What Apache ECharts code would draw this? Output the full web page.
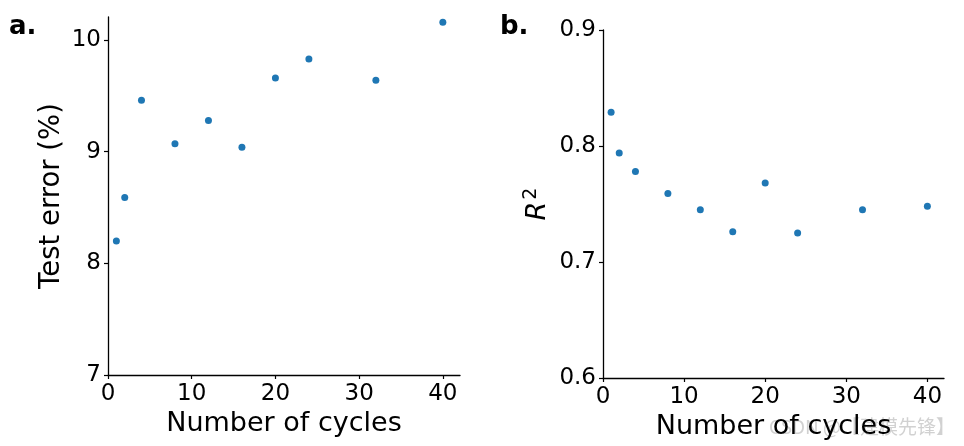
<!DOCTYPE html>
<html><head><meta charset="utf-8">
<script src="https://cdn.jsdelivr.net/npm/echarts@6/dist/echarts.min.js"></script>
<style>html,body{margin:0;padding:0;background:#fff}#c{width:964px;height:446px}</style>
</head><body><div id="c"></div>
<script>
const cycles = [1, 2, 4, 8, 12, 16, 20, 24, 32, 40];
const testError = [8.20, 8.59, 9.46, 9.07, 9.28, 9.04, 9.66, 9.83, 9.64, 10.16];
const r2 = [0.829, 0.794, 0.778, 0.759, 0.745, 0.726, 0.768, 0.725, 0.745, 0.748];
const xTicks = [0, 10, 20, 30, 40];
const yTicksA = [7, 8, 9, 10];
const yTicksB = [0.6, 0.7, 0.8, 0.9];

const FONT = 'DejaVu Sans';
const axisLine = {show: true, lineStyle: {color: '#000', width: 1.3}};
const tick = vals => ({show: true, inside: false, length: 4, lineStyle: {color: '#000', width: 1.2}, customValues: vals});
const label = (vals, margin, fmt) => ({show: true, fontFamily: FONT, fontSize: 23, color: '#000', margin: margin, customValues: vals, formatter: fmt});

const chart = echarts.init(document.getElementById('c'), null, {renderer: 'canvas'});
chart.setOption({
  animation: false,
  backgroundColor: '#fff',
  grid: [
    {left: 108, right: 504, top: 17, bottom: 71},
    {left: 603, right: 20, top: 30, bottom: 68}
  ],
  xAxis: [
    {gridIndex: 0, type: 'value', min: 0, max: 42.05, axisLine, axisTick: tick(xTicks), axisLabel: label(xTicks, 8),
     splitLine: {show: false}, name: 'Number of cycles', nameLocation: 'middle', nameGap: 31,
     nameTextStyle: {fontFamily: FONT, fontSize: 27, color: '#000'}},
    {gridIndex: 1, type: 'value', min: 0, max: 42.05, axisLine, axisTick: tick(xTicks), axisLabel: label(xTicks, 8),
     splitLine: {show: false}, name: 'Number of cycles', nameLocation: 'middle', nameGap: 33,
     nameTextStyle: {fontFamily: FONT, fontSize: 27, color: '#000'}}
  ],
  yAxis: [
    {gridIndex: 0, type: 'value', min: 7, max: 10.206, axisLine, axisTick: tick(yTicksA), axisLabel: label(yTicksA, 7),
     splitLine: {show: false}, name: 'Test error (%)', nameLocation: 'middle', nameGap: 42, nameRotate: 90,
     nameTextStyle: {fontFamily: FONT, fontSize: 27.5, color: '#000'}},
    {gridIndex: 1, type: 'value', min: 0.6, max: 0.9, axisLine, axisTick: tick(yTicksB), axisLabel: label(yTicksB, 7, v => v.toFixed(1)),
     splitLine: {show: false}, name: '{r|R}{s|2}', nameLocation: 'middle', nameGap: 50, nameRotate: 90,
     nameTextStyle: {fontFamily: FONT, fontSize: 27, color: '#000',
       rich: {r: {fontFamily: FONT, fontSize: 27, fontStyle: 'italic', color: '#000'},
              s: {fontFamily: FONT, fontSize: 19, color: '#000', verticalAlign: 'top', padding: [0, 0, 12, 2]}}}}
  ],
  graphic: [
    {type: 'text', left: 9, top: 14, style: {text: 'a.', font: 'bold 26px "DejaVu Sans"', fill: '#000'}},
    {type: 'text', left: 500, top: 14, style: {text: 'b.', font: 'bold 26px "DejaVu Sans"', fill: '#000'}},
    {type: 'text', right: 9, top: 417, style: {text: 'CSDN @【建模先锋】', font: '19px "Noto Sans CJK SC"', fill: 'rgba(185,185,185,0.65)'}}
  ],
  series: [
    {type: 'scatter', xAxisIndex: 0, yAxisIndex: 0, symbolSize: 7, itemStyle: {color: '#1f77b4', opacity: 1},
     data: cycles.map((c, i) => [c, testError[i]])},
    {type: 'scatter', xAxisIndex: 1, yAxisIndex: 1, symbolSize: 7, itemStyle: {color: '#1f77b4', opacity: 1},
     data: cycles.map((c, i) => [c, r2[i]])}
  ]
});
</script></body></html>
